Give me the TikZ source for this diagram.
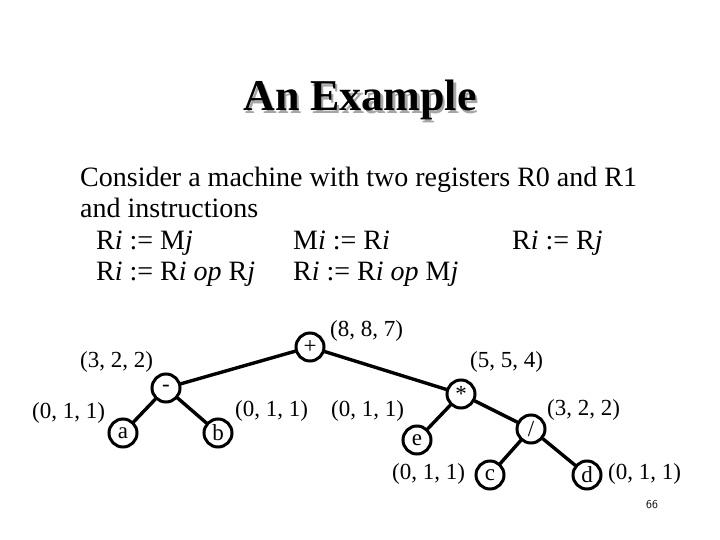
\documentclass[tikz,border=0pt]{standalone}
\usepackage{fontspec}
\setmainfont{Liberation Serif}
\usetikzlibrary{positioning}

\begin{document}
\begin{tikzpicture}[
    x=1pt, y=-1pt,
    body/.style={anchor=base west, inner sep=0pt, font=\fontsize{28}{32}\selectfont},
    opnode/.style={circle, minimum size=30pt, inner sep=0pt, font=\fontsize{23}{24}\selectfont},
    ring/.style={line width=3pt},
    costlabel/.style={anchor=west, inner sep=0pt, font=\fontsize{23}{26}\selectfont},
    treeline/.style={line width=3.4pt}
]
\useasboundingbox (0,0) rectangle (720,540);

% Title with shadow
\node[anchor=base, inner sep=0pt, font=\fontsize{44}{48}\selectfont\bfseries] (title) at (360,111)
    {\rlap{\raisebox{-2.5pt}{\hspace{2.5pt}\color{black!35}An Example}}An Example};

% Body text
\node[body] (l1) at (80,187) {Consider a machine with two registers R0 and R1};
\node[body] (l2) at (80,218) {and instructions};
\node[body] (i1) at (96,249) {R\textit{i} := M\textit{j}};
\node[body] (i2) at (293,249) {M\textit{i} := R\textit{i}};
\node[body] (i3) at (512,249) {R\textit{i} := R\textit{j}};
\node[body] (i4) at (96,280) {R\textit{i} := R\textit{i} \textit{op} R\textit{j}};
\node[body] (i5) at (293,280) {R\textit{i} := R\textit{i} \textit{op} M\textit{j}};

% Tree nodes
\node[opnode] (plus) at (310,347) {+};
\node[opnode] (minus) at (166,388) {-};
\node[opnode] (a) at (123,433) {a};
\node[opnode] (b) at (218,433) {b};
\node[opnode] (times) at (461,394) {*};
\node[opnode] (e) at (417,440) {e};
\node[opnode] (div) at (531,429) {/};
\node[opnode] (c) at (490,475) {c};
\node[opnode] (d) at (587,475) {d};
\foreach \n in {plus,minus,a,b,times,e,div,c,d}
    \draw[ring] (\n.center) circle[radius=14pt];

% Tree edges
\draw[treeline] (plus) -- (minus);
\draw[treeline] (plus) -- (times);
\draw[treeline] (minus) -- (a);
\draw[treeline] (minus) -- (b);
\draw[treeline] (times) -- (e);
\draw[treeline] (times) -- (div);
\draw[treeline] (div) -- (c);
\draw[treeline] (div) -- (d);

% Cost labels
\node[costlabel] (cplus) at (330,331) {(8, 8, 7)};
\node[costlabel] (cminus) at (80,362) {(3, 2, 2)};
\node[costlabel] (ctimes) at (470,362) {(5, 5, 4)};
\node[costlabel] (ca) at (32,413) {(0, 1, 1)};
\node[costlabel] (cb) at (235,411) {(0, 1, 1)};
\node[costlabel] (ce) at (331,411) {(0, 1, 1)};
\node[costlabel] (cdiv) at (547,410) {(3, 2, 2)};
\node[costlabel] (cc) at (392,474) {(0, 1, 1)};
\node[costlabel] (cd) at (608,474) {(0, 1, 1)};

% Page number
\node[font=\fontsize{12}{14}\selectfont\sffamily] (page) at (652,505) {66};
\end{tikzpicture}
\end{document}
